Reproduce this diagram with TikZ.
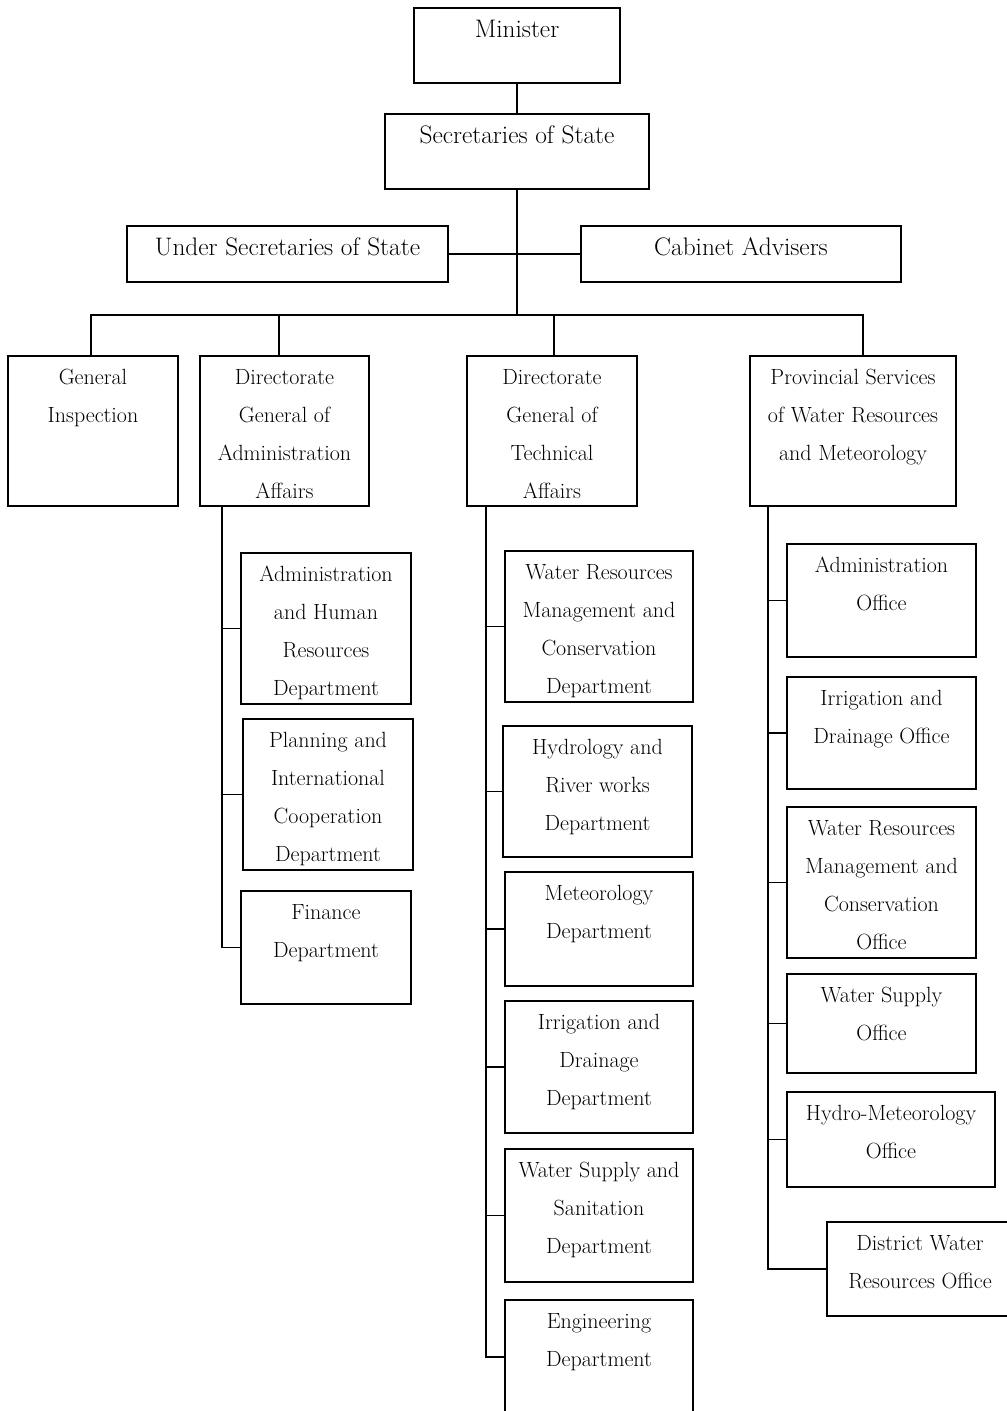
\documentclass[tikz,border=0pt]{standalone}
\usetikzlibrary{positioning,calc,fit}

\begin{document}
\begin{tikzpicture}[x=0.75pt,y=0.75pt,yscale=-1,xscale=1,
  box/.style={draw, line width=1.1pt, inner sep=0pt, outer sep=0pt},
  toptxt/.style={anchor=north, align=center, inner sep=0pt, font=\fontsize{19}{31}\selectfont, execute at begin node=\strut},
  txt/.style={anchor=north, align=center, inner sep=0pt, font=\fontsize{16.5}{28.5}\selectfont},
  link/.style={line width=1.1pt}]
\useasboundingbox (0,0) rectangle (1007,1411);
\clip (0,0) rectangle (1007,1411);

%Shape: Rectangle
\node [box, fit={(414,8) (620,83)}] (min) {};
%Shape: Rectangle
\node [box, fit={(385,114) (649,189)}] (sec) {};
%Shape: Rectangle
\node [box, fit={(127,226) (448,282)}] (usec) {};
%Shape: Rectangle
\node [box, fit={(581,226) (901,282)}] (cab) {};
%Shape: Rectangle
\node [box, fit={(8,356) (178,506)}] (gi) {};
%Shape: Rectangle
\node [box, fit={(200,356) (369,506)}] (dga) {};
%Shape: Rectangle
\node [box, fit={(467,356) (637,506)}] (dgt) {};
%Shape: Rectangle
\node [box, fit={(750,356) (956,506)}] (prov) {};

%Shape: Rectangle
\node [box, fit={(241,553) (411,704)}] (ahr) {};
%Shape: Rectangle
\node [box, fit={(243,719) (413,870)}] (pic) {};
%Shape: Rectangle
\node [box, fit={(241,891) (411,1004)}] (fin) {};

%Shape: Rectangle
\node [box, fit={(505,551) (693,702)}] (wrmd) {};
%Shape: Rectangle
\node [box, fit={(503,726) (692,857)}] (hyd) {};
%Shape: Rectangle
\node [box, fit={(505,872) (693,986)}] (met) {};
%Shape: Rectangle
\node [box, fit={(505,1001) (693,1133)}] (irrd) {};
%Shape: Rectangle
\node [box, fit={(505,1149) (693,1282)}] (wss) {};
%Shape: Rectangle
\node [box, fit={(505,1300) (693,1414)}] (eng) {};

%Shape: Rectangle
\node [box, fit={(787,544) (976,657)}] (ao) {};
%Shape: Rectangle
\node [box, fit={(787,677) (976,789)}] (ido) {};
%Shape: Rectangle
\node [box, fit={(787,807) (976,958)}] (wrmo) {};
%Shape: Rectangle
\node [box, fit={(787,974) (976,1073)}] (wso) {};
%Shape: Rectangle
\node [box, fit={(787,1092) (995,1187)}] (hmo) {};
%Shape: Rectangle
\node [box, fit={(827,1222) (1013,1316)}] (dwo) {};

\coordinate (hub) at (517,315);
\coordinate (b1) at (91,315);
\coordinate (b2) at (279,315);
\coordinate (b3) at (554,315);
\coordinate (b4) at (863,315);
\coordinate (ta) at (222,506);
\coordinate (tt) at (486,506);
\coordinate (tp) at (768,506);

%Straight Lines
\draw [link] (min) -- (sec);
\draw [link] (sec.south) -- (hub);
\draw [link] (usec.east) -- (cab.west);
\draw [link] (b1 |- gi.north) -- (b1) -- (b4) -- (b4 |- prov.north);
\draw [link] (b2) -- (b2 |- dga.north);
\draw [link] (b3) -- (b3 |- dgt.north);

\draw [link] (ta) |- (fin.west);
\draw [link] (ta |- ahr.west) -- (ahr.west);
\draw [link] (ta |- pic.west) -- (pic.west);

\draw [link] (tt) |- (eng.west);
\draw [link] (tt |- wrmd.west) -- (wrmd.west);
\draw [link] (tt |- hyd.west) -- (hyd.west);
\draw [link] (tt |- met.west) -- (met.west);
\draw [link] (tt |- irrd.west) -- (irrd.west);
\draw [link] (tt |- wss.west) -- (wss.west);

\draw [link] (tp) |- (dwo.west);
\draw [link] (tp |- ao.west) -- (ao.west);
\draw [link] (tp |- ido.west) -- (ido.west);
\draw [link] (tp |- wrmo.west) -- (wrmo.west);
\draw [link] (tp |- wso.west) -- (wso.west);
\draw [link] (tp |- hmo.west) -- (hmo.west);

% Text Node
\node [toptxt] (min-t) at (min.north) {Minister};
% Text Node
\node [toptxt] (sec-t) at (sec.north) {Secretaries of State};
% Text Node
\node [toptxt] (usec-t) at (usec.north) {Under Secretaries of State};
% Text Node
\node [toptxt] (cab-t) at (cab.north) {Cabinet Advisers};

% Text Node
\node [txt] (gi-t) at ($(gi.north)+(0,13)$) {General\\Inspection};
% Text Node
\node [txt] (dga-t) at ($(dga.north)+(0,13)$) {Directorate\\General of\\Administration\\Affairs};
% Text Node
\node [txt] (dgt-t) at ($(dgt.north)+(0,13)$) {Directorate\\General of\\Technical\\Affairs};
% Text Node
\node [txt] (prov-t) at ($(prov.north)+(0,13)$) {Provincial Services\\of Water Resources\\and Meteorology};

% Text Node
\node [txt] (ahr-t) at ($(ahr.north)+(0,13)$) {Administration\\and Human\\Resources\\Department};
% Text Node
\node [txt] (pic-t) at ($(pic.north)+(0,13)$) {Planning and\\International\\Cooperation\\Department};
% Text Node
\node [txt] (fin-t) at ($(fin.north)+(0,13)$) {Finance\\Department};

% Text Node
\node [txt] (wrmd-t) at ($(wrmd.north)+(0,13)$) {Water Resources\\Management and\\Conservation\\Department};
% Text Node
\node [txt] (hyd-t) at ($(hyd.north)+(0,13)$) {Hydrology and\\River works\\Department};
% Text Node
\node [txt] (met-t) at ($(met.north)+(0,13)$) {Meteorology\\Department};
% Text Node
\node [txt] (irrd-t) at ($(irrd.north)+(0,13)$) {Irrigation and\\Drainage\\Department};
% Text Node
\node [txt] (wss-t) at ($(wss.north)+(0,13)$) {Water Supply and\\Sanitation\\Department};
% Text Node
\node [txt] (eng-t) at ($(eng.north)+(0,13)$) {Engineering\\Department};

% Text Node
\node [txt] (ao-t) at ($(ao.north)+(0,13)$) {Administration\\Office};
% Text Node
\node [txt] (ido-t) at ($(ido.north)+(0,13)$) {Irrigation and\\Drainage Office};
% Text Node
\node [txt] (wrmo-t) at ($(wrmo.north)+(0,13)$) {Water Resources\\Management and\\Conservation\\Office};
% Text Node
\node [txt] (wso-t) at ($(wso.north)+(0,13)$) {Water Supply\\Office};
% Text Node
\node [txt] (hmo-t) at ($(hmo.north)+(0,13)$) {Hydro-Meteorology\\Office};
% Text Node
\node [txt] (dwo-t) at ($(dwo.north)+(0,13)$) {District Water\\Resources Office};

\end{tikzpicture}
\end{document}
